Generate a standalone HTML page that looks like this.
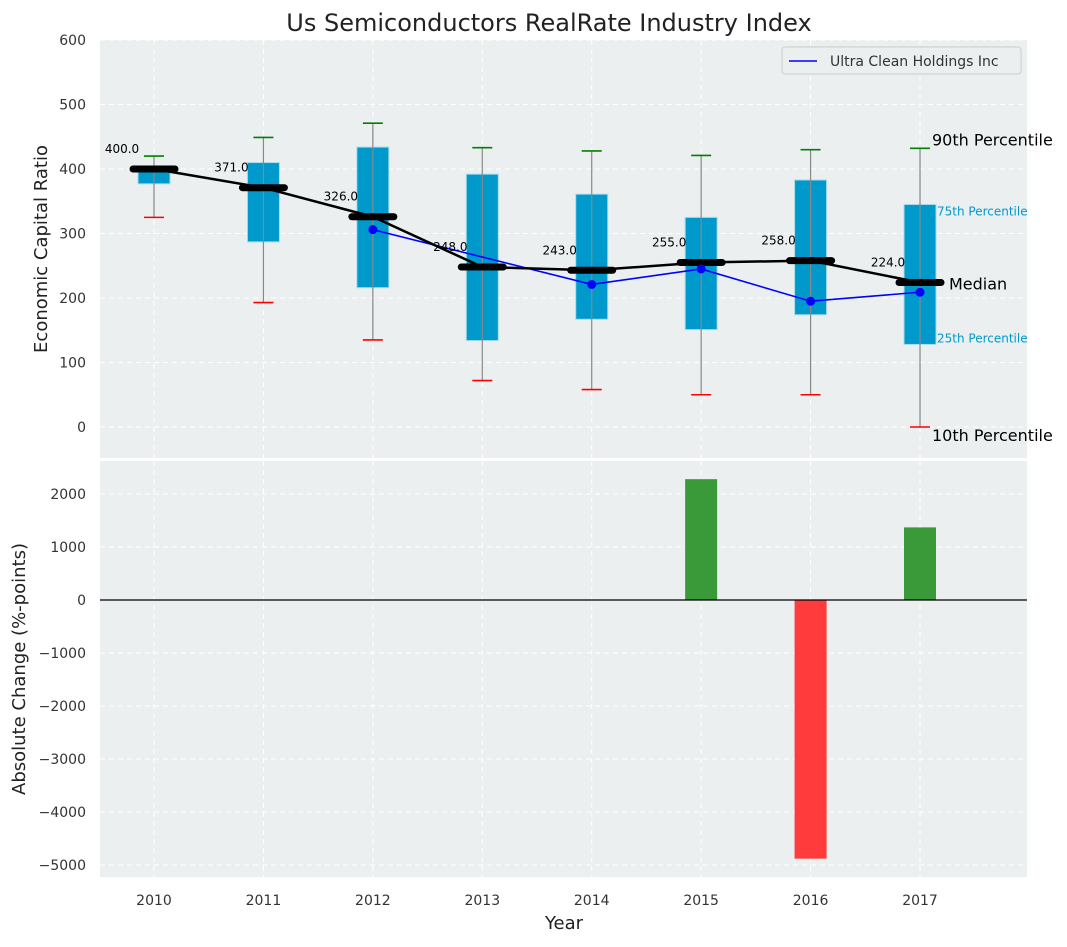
<!DOCTYPE html>
<html><head><meta charset="utf-8"><style>
body{margin:0;background:#fff;font-family:"Liberation Sans","DejaVu Sans",sans-serif}
</style></head><body>
<svg id="c" width="1067" height="942" xmlns="http://www.w3.org/2000/svg" font-family="DejaVu Sans, Liberation Sans, sans-serif"></svg>
<script>
const years=[2010,2011,2012,2013,2014,2015,2016,2017];
const p10=[325,193,135,72,58,50,50,0];
const q1=[377,287,216,134,167,151,174,128];
const medians=[400,371,326,248,243,255,258,224];
const q3=[404,410,434,392,361,325,383,345];
const p90=[420,449,471,433,428,421,430,432];
const company=[null,null,306,null,221,245,195,209];
const changes=[0,0,0,0,0,2280,-4880,1370];
const topTicks=[0,100,200,300,400,500,600];
const botTicks=[-5000,-4000,-3000,-2000,-1000,0,1000,2000];

const svg=document.getElementById('c');const NS='http://www.w3.org/2000/svg';
function el(t,a,p){const e=document.createElementNS(NS,t);for(const k in a)e.setAttribute(k,a[k]);(p||svg).appendChild(e);return e;}
const L=100,R=1027,T1=40,B1=458,T2=461,B2=877;
const x=v=>154+(v-2010)*109.43;
const y1=v=>427-v*0.645;
const y2=v=>600-v*0.053;

let g=el('g',{});
el('rect',{x:L,y:T1,width:R-L,height:B1-T1,fill:'#ebeff0'},g);
let g2=el('g',{});
el('rect',{x:L,y:T2,width:R-L,height:B2-T2,fill:'#ebeff0'},g2);
years.forEach(v=>{el('line',{x1:x(v),x2:x(v),y1:T1,y2:B1,stroke:'#fff','stroke-dasharray':'5,4'},g);el('line',{x1:x(v),x2:x(v),y1:T2,y2:B2,stroke:'#fff','stroke-dasharray':'5,4'},g2);
 const t=el('text',{x:x(v),y:905,'text-anchor':'middle','font-size':14,fill:'#333'});t.textContent=v;});
topTicks.forEach(v=>{el('line',{x1:L,x2:R,y1:y1(v),y2:y1(v),stroke:'#fff','stroke-dasharray':'5,4'},g);
 const t=el('text',{x:86,y:y1(v)+5,'text-anchor':'end','font-size':14,fill:'#333'});t.textContent=v;});
botTicks.forEach(v=>{el('line',{x1:L,x2:R,y1:y2(v),y2:y2(v),stroke:'#fff','stroke-dasharray':'5,4'},g2);
 const t=el('text',{x:86,y:y2(v)+5,'text-anchor':'end','font-size':14,fill:'#333'});t.textContent=v<0?'\u2212'+(-v):v;});
years.forEach((v,i)=>{const cx=x(v);
 const b=el('rect',{x:cx-16,y:y1(q3[i]),width:32,height:y1(q1[i])-y1(q3[i]),fill:'#0099cc',stroke:'#a8dcea','stroke-width':1},g);
 el('line',{x1:cx,x2:cx,y1:y1(p90[i]),y2:y1(p10[i]),stroke:'#888','stroke-width':1.2},g);
 el('line',{x1:cx-10,x2:cx+10,y1:y1(p90[i]),y2:y1(p90[i]),stroke:'green','stroke-width':1.6},g);
 el('line',{x1:cx-10,x2:cx+10,y1:y1(p10[i]),y2:y1(p10[i]),stroke:'red','stroke-width':1.6},g);
});
const pts=[];years.forEach((v,i)=>{if(company[i]!=null)pts.push([x(v),y1(company[i])]);});
const cl=el('polyline',{points:pts.map(p=>p.join(',')).join(' '),fill:'none',stroke:'blue','stroke-width':1.6},g);
el('polyline',{points:years.map((v,i)=>x(v)+','+y1(medians[i])).join(' '),fill:'none',stroke:'#000','stroke-width':2.5},g);
years.forEach((v,i)=>{const m=el('line',{x1:x(v)-21,x2:x(v)+21,y1:y1(medians[i]),y2:y1(medians[i]),stroke:'#000','stroke-width':7,'stroke-linecap':'round'},g);
 const t=el('text',{x:x(v)-32,y:y1(medians[i])-16,'text-anchor':'middle','font-size':12,fill:'#000'});t.textContent=medians[i].toFixed(1);});
pts.forEach(p=>{const c=el('circle',{cx:p[0],cy:p[1],r:4.5,fill:'blue'},g);});
const li=years.length-1,ax=x(years[li]);
[[ax+12,y1(p90[li])-3,'90th Percentile',16,'#000'],[ax+17,y1(q3[li])+11,'75th Percentile',12,'#0099cc'],[ax+29,y1(medians[li])+7,'Median',16,'#000'],[ax+17,y1(q1[li])-2,'25th Percentile',12,'#0099cc'],[ax+12,y1(p10[li])+14,'10th Percentile',16,'#000']].forEach(a=>{const t=el('text',{x:a[0],y:a[1],'font-size':a[3],fill:a[4]},g);t.textContent=a[2];});
const lg=el('g',{});
el('rect',{x:782,y:47,width:239,height:27,rx:3,fill:'#ebeff0',stroke:'#ccc'},lg);
el('line',{x1:789,x2:817,y1:61,y2:61,stroke:'blue','stroke-width':1.6},lg);
const lt=el('text',{x:830,y:66,'font-size':14,fill:'#333'},lg);lt.textContent='Ultra Clean Holdings Inc';
changes.forEach((c,i)=>{if(!c)return;const r=el('rect',{x:x(years[i])-16,y:Math.min(y2(c),y2(0)),width:32,height:Math.abs(y2(c)-y2(0)),fill:c>0?'#3a9a3a':'#ff3b3b'},g2);});
el('line',{x1:L,x2:R,y1:y2(0),y2:y2(0),stroke:'#000','stroke-width':1.2},g2);
let t=el('text',{x:549,y:31,'text-anchor':'middle','font-size':24,fill:'#222'});t.textContent='Us Semiconductors RealRate Industry Index';
t=el('text',{x:564,y:929,'text-anchor':'middle','font-size':18,fill:'#222'});t.textContent='Year';
t=el('text',{x:47,y:249,'text-anchor':'middle','font-size':18,fill:'#222',transform:'rotate(-90 47 249)'});t.textContent='Economic Capital Ratio';
t=el('text',{x:25,y:669,'text-anchor':'middle','font-size':18,fill:'#222',transform:'rotate(-90 25 669)'});t.textContent='Absolute Change (%-points)';
</script></body></html>
